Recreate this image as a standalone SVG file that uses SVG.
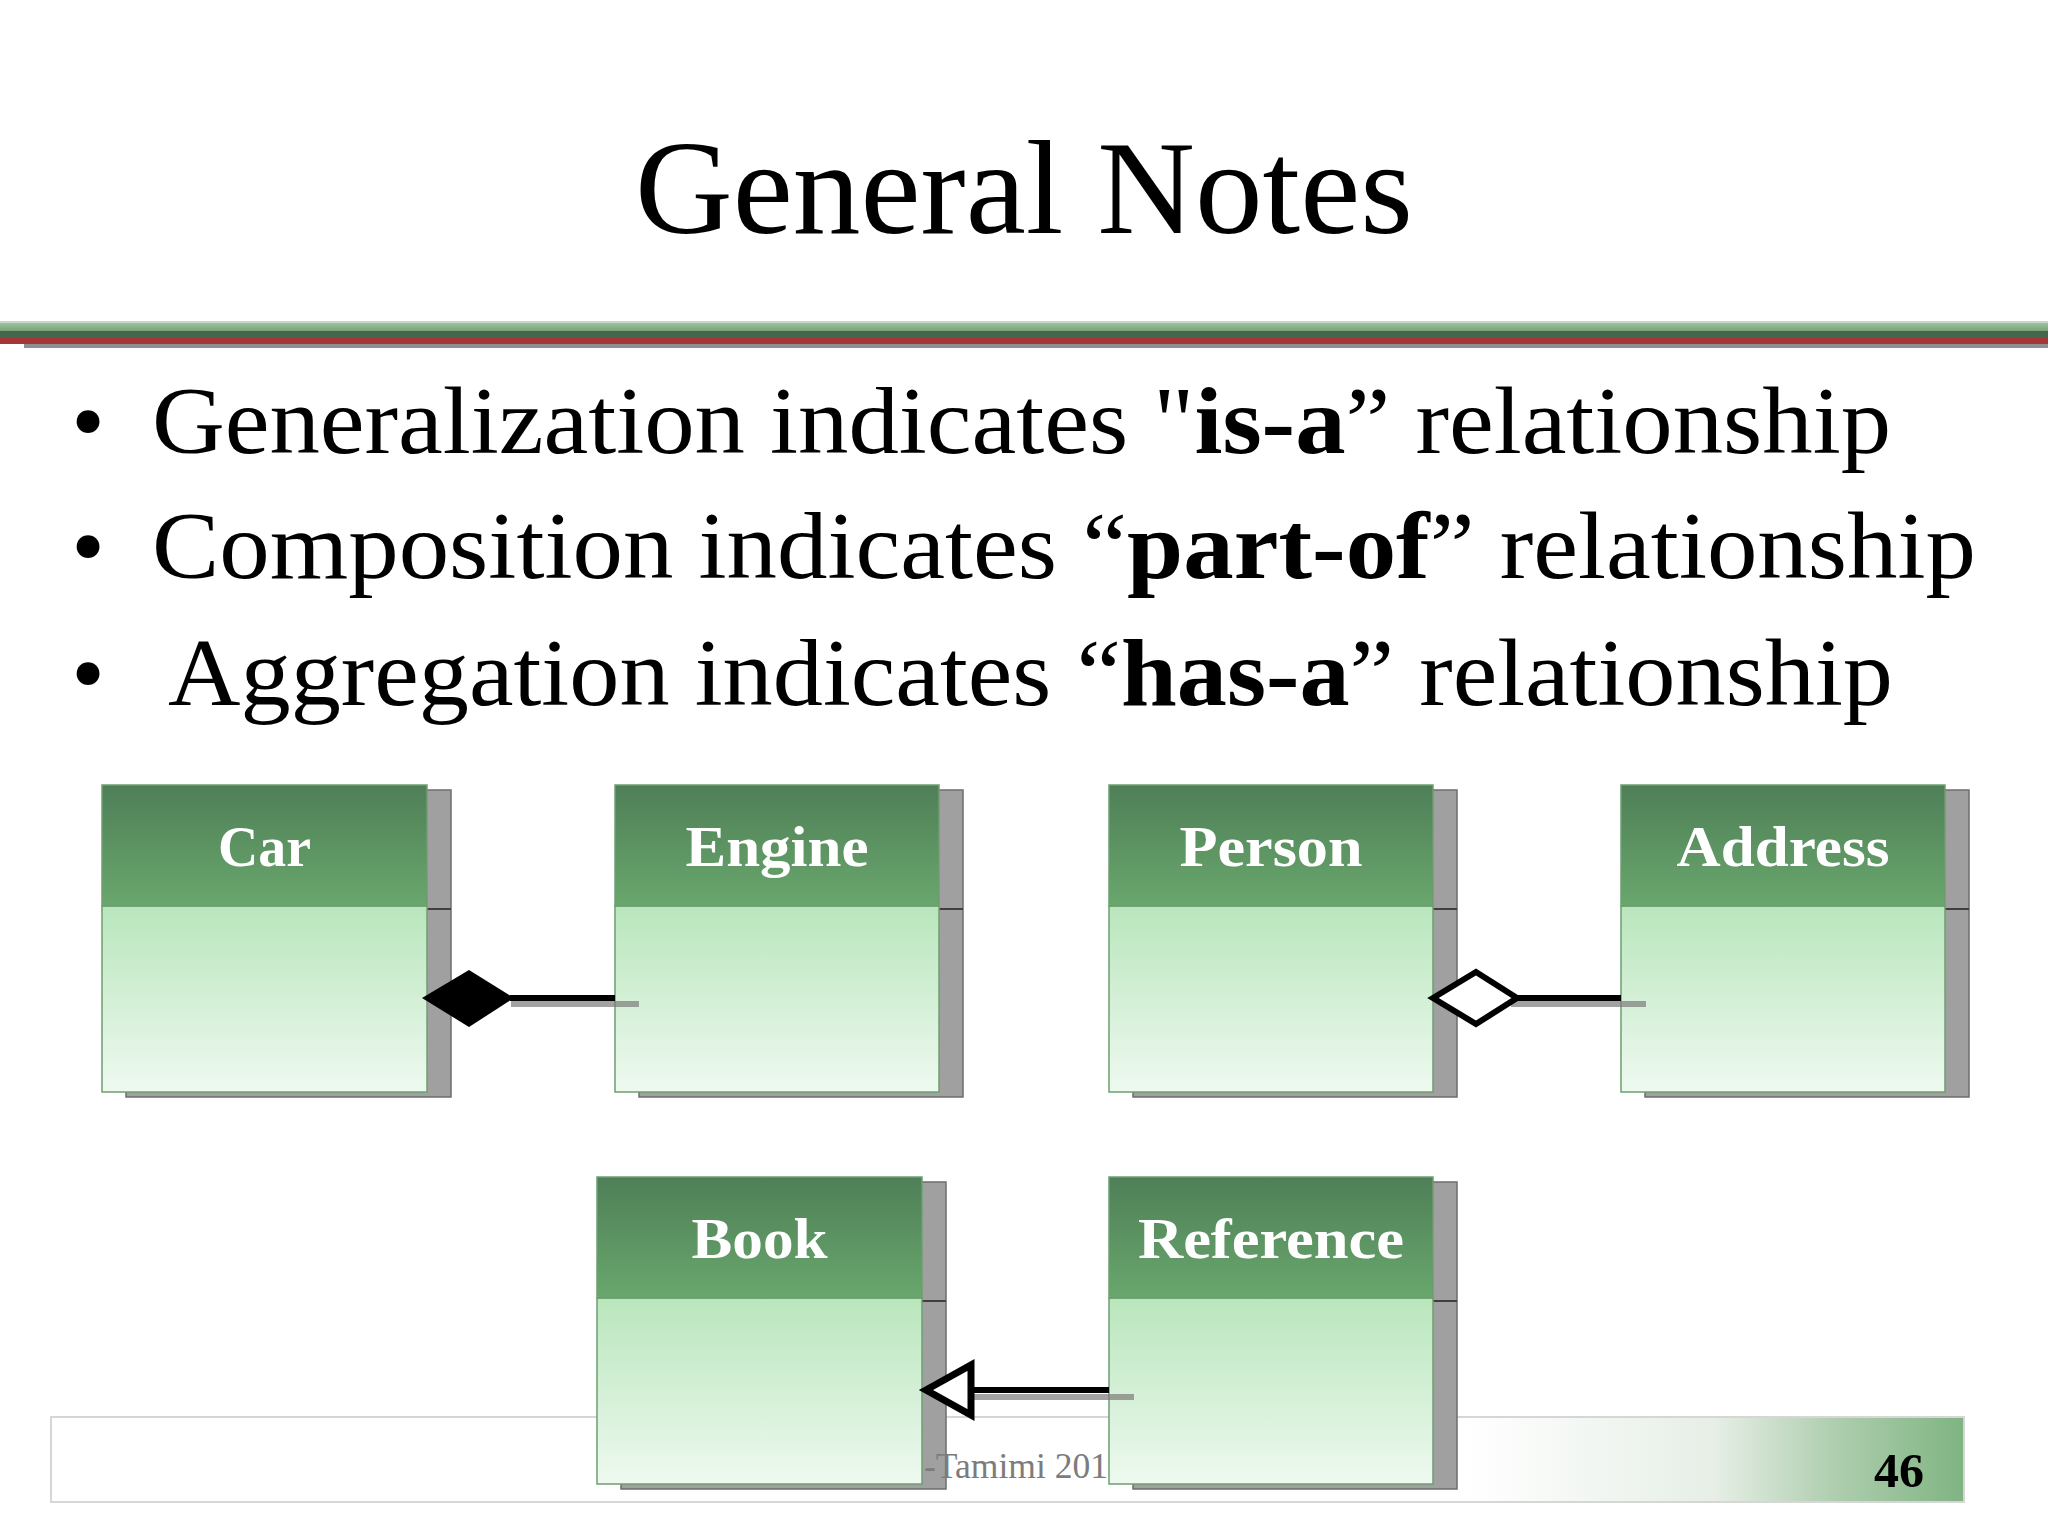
<svg xmlns="http://www.w3.org/2000/svg" width="2048" height="1536" viewBox="0 0 2048 1536">
<defs>
<linearGradient id="hdr" x1="0" y1="0" x2="0" y2="1">
<stop offset="0" stop-color="#4f7f57"/>
<stop offset="1" stop-color="#69a76d"/>
</linearGradient>
<linearGradient id="bdy" x1="0" y1="0" x2="0" y2="1">
<stop offset="0" stop-color="#b9e6bc"/>
<stop offset="1" stop-color="#eef9f0"/>
</linearGradient>
<linearGradient id="foot" x1="0" y1="0" x2="1" y2="0">
<stop offset="0" stop-color="#ffffff"/>
<stop offset="0.74" stop-color="#ffffff"/>
<stop offset="0.87" stop-color="#e6eee6"/>
<stop offset="0.93" stop-color="#b0cfb0"/>
<stop offset="1" stop-color="#7fb482"/>
</linearGradient>
<linearGradient id="hl" x1="0" y1="0" x2="0" y2="1">
<stop offset="0" stop-color="#9cc49c"/>
<stop offset="1" stop-color="#76a078"/>
</linearGradient>
<style>
.shadow{fill:#a0a0a0;stroke:#6d6d6d;stroke-width:1.5}
.sep{stroke:#404040;stroke-width:2}
.head{fill:url(#hdr);stroke:#6e9e72;stroke-width:1.5}
.body{fill:url(#bdy);stroke:#6e9e72;stroke-width:1.5}
.name{font-family:"Liberation Serif",serif;font-weight:bold;font-size:56px;fill:#ffffff;text-anchor:middle}
.bul{font-family:"Liberation Serif",serif;font-size:96px;fill:#000}
.b{font-weight:bold}
.line{stroke:#000;stroke-width:6;fill:none}
.lsh{stroke:#7a7a7a;stroke-opacity:0.7;stroke-width:6;fill:none}
</style>
</defs>
<rect width="2048" height="1536" fill="#ffffff"/>

<g id="title">
<text x="1024" y="233" font-family="Liberation Serif, serif" font-size="134" text-anchor="middle" textLength="778" lengthAdjust="spacingAndGlyphs" fill="#000">General Notes</text>
</g>

<g id="rule">
<rect x="0" y="321" width="2048" height="2" fill="#c8d6c4"/>
<rect x="0" y="323" width="2048" height="8" fill="url(#hl)"/>
<rect x="0" y="331" width="2048" height="7" fill="#46664b"/>
<rect x="0" y="338" width="2048" height="6" fill="#a53536"/>
<rect x="24" y="344" width="2024" height="4" fill="#8d8d94"/>
</g>

<g id="bullets">
<text class="bul" x="88" y="453" text-anchor="middle">•</text>
<text class="bul" x="88" y="578" text-anchor="middle">•</text>
<text class="bul" x="88" y="705" text-anchor="middle">•</text>
<text class="bul" x="152" y="453" textLength="1739" lengthAdjust="spacingAndGlyphs">Generalization indicates "<tspan class="b">is-a</tspan>” relationship</text>
<text class="bul" x="152" y="578" textLength="1824" lengthAdjust="spacingAndGlyphs">Composition indicates “<tspan class="b">part-of</tspan>” relationship</text>
<text class="bul" x="168" y="705" textLength="1725" lengthAdjust="spacingAndGlyphs">Aggregation indicates “<tspan class="b">has-a</tspan>” relationship</text>
</g>

<g id="footer">
<rect x="51" y="1417" width="1913" height="85" fill="url(#foot)" stroke="#d6d6d6" stroke-width="2"/>
<text x="1899" y="1487" font-family="Liberation Serif, serif" font-weight="bold" font-size="48" text-anchor="middle" textLength="50" lengthAdjust="spacingAndGlyphs" fill="#000">46</text>
</g>

<g id="node-car">
<rect class="shadow" x="126" y="790" width="325" height="307"/>
<line class="sep" x1="427" y1="909" x2="451" y2="909"/>
<rect class="body" x="102" y="906" width="325" height="186"/>
<rect class="head" x="102" y="785" width="325" height="121"/>
<text class="name" x="264.5" y="866" textLength="93" lengthAdjust="spacingAndGlyphs">Car</text>
</g>

<g id="node-engine">
<rect class="shadow" x="639" y="790" width="324" height="307"/>
<line class="sep" x1="939" y1="909" x2="963" y2="909"/>
<rect class="body" x="615" y="906" width="324" height="186"/>
<rect class="head" x="615" y="785" width="324" height="121"/>
<text class="name" x="777" y="866" textLength="183" lengthAdjust="spacingAndGlyphs">Engine</text>
</g>

<g id="node-person">
<rect class="shadow" x="1133" y="790" width="324" height="307"/>
<line class="sep" x1="1433" y1="909" x2="1457" y2="909"/>
<rect class="body" x="1109" y="906" width="324" height="186"/>
<rect class="head" x="1109" y="785" width="324" height="121"/>
<text class="name" x="1271" y="866" textLength="183" lengthAdjust="spacingAndGlyphs">Person</text>
</g>

<g id="node-address">
<rect class="shadow" x="1645" y="790" width="324" height="307"/>
<line class="sep" x1="1945" y1="909" x2="1969" y2="909"/>
<rect class="body" x="1621" y="906" width="324" height="186"/>
<rect class="head" x="1621" y="785" width="324" height="121"/>
<text class="name" x="1783" y="866" textLength="213" lengthAdjust="spacingAndGlyphs">Address</text>
</g>

<g id="node-book">
<rect class="shadow" x="621" y="1182" width="325" height="307"/>
<line class="sep" x1="922" y1="1301" x2="946" y2="1301"/>
<rect class="body" x="597" y="1298" width="325" height="186"/>
<rect class="head" x="597" y="1177" width="325" height="121"/>
<text class="name" x="759.5" y="1258" textLength="136" lengthAdjust="spacingAndGlyphs">Book</text>
</g>

<g id="node-reference">
<rect class="shadow" x="1133" y="1182" width="324" height="307"/>
<line class="sep" x1="1433" y1="1301" x2="1457" y2="1301"/>
<rect class="body" x="1109" y="1298" width="324" height="186"/>
<rect class="head" x="1109" y="1177" width="324" height="121"/>
<text class="name" x="1271" y="1258" textLength="266" lengthAdjust="spacingAndGlyphs">Reference</text>
</g>

<g id="footer-text">
<text x="924" y="1478" font-family="Liberation Serif, serif" font-size="36" textLength="184" lengthAdjust="spacingAndGlyphs" fill="#7c7c7c">-Tamimi 201</text>
</g>

<g id="connectors">
<line class="lsh" x1="511" y1="1004" x2="639" y2="1004"/>
<line class="line" x1="510" y1="998" x2="615" y2="998"/>
<polygon points="422,998 469,970 514,998 469,1027" fill="#000"/>

<line class="lsh" x1="1511" y1="1004" x2="1646" y2="1004"/>
<line class="line" x1="1517" y1="998" x2="1621" y2="998"/>
<polygon points="1433,998 1476,972 1517,998 1476,1024" fill="#ffffff" stroke="#000" stroke-width="6" stroke-linejoin="miter"/>

<line class="lsh" x1="974" y1="1397" x2="1134" y2="1397"/>
<line class="line" x1="971" y1="1390" x2="1109" y2="1390" stroke-width="7"/>
<polygon points="926,1390 971,1365 971,1415" fill="#ffffff" stroke="#000" stroke-width="7"/>
</g>
</svg>
